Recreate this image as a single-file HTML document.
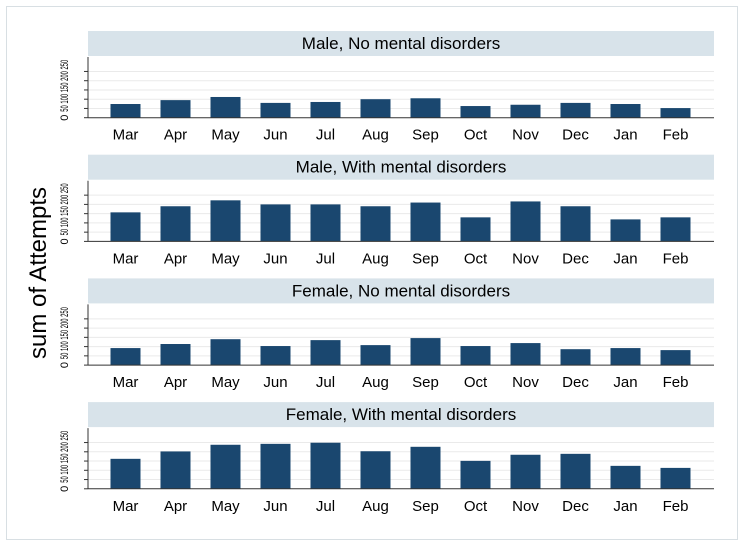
<!DOCTYPE html>
<html><head><meta charset="utf-8"><style>
body{margin:0;background:#fff;}
svg{display:block;font-family:"Liberation Sans",sans-serif;}
</style></head><body>
<svg id="c" width="745" height="546">
<rect x="0" y="0" width="745" height="546" fill="#fff"/>
<rect x="6.5" y="6.5" width="731" height="533" fill="#fff" stroke="#d8dfe3"/>
<text x="0" y="0" transform="translate(46,273) rotate(-90)" text-anchor="middle" font-size="24" fill="#000">sum of Attempts</text>
</svg>
<script>
const months=["Mar","Apr","May","Jun","Jul","Aug","Sep","Oct","Nov","Dec","Jan","Feb"];
const panelTitles=["Male, No mental disorders","Male, With mental disorders","Female, No mental disorders","Female, With mental disorders"];
const maleNo=[74,95,112,80,85,100,105,63,70,80,74,52];
const maleWith=[157,190,222,200,200,190,210,130,216,190,119,130];
const femaleNo=[92,114,140,103,135,108,146,103,119,86,92,81];
const femaleWith=[162,202,238,243,249,203,227,151,184,189,124,113];
const yTicks=[0,50,100,150,200,250];
const series=[maleNo,maleWith,femaleNo,femaleWith];
const NS="http://www.w3.org/2000/svg";
const svg=document.getElementById('c');
function mk(t,a){const e=document.createElementNS(NS,t);for(const k in a)e.setAttribute(k,a[k]);svg.appendChild(e);return e;}
const x0=88,x1=714,bw=30;
function xc(i){return 125.5+i*50;}
series.forEach((vals,p)=>{
  const top=31+p*123.7, base=117.7+p*123.7;
  const ys=v=>base-v*0.185;
  let h=mk('rect',{x:x0,y:top,width:x1-x0,height:25,fill:'#d8e3ea'});
  
  
  let t=mk('text',{x:(x0+x1)/2,y:top+18,'text-anchor':'middle','font-size':17,fill:'#000'});
  t.textContent=panelTitles[p];
  
  
  yTicks.forEach(v=>{
    if(v>0){let g=mk('line',{x1:x0,x2:x1,y1:ys(v),y2:ys(v),stroke:'#eaeaea'});
    
    }
    let tk=mk('line',{x1:x0-4,x2:x0,y1:ys(v),y2:ys(v),stroke:'#333'});
    
    
  });
  let z=mk('text',{x:0,y:0,transform:`translate(68,${base}) rotate(-90)`,'text-anchor':'middle','font-size':11,fill:'#000'});
  z.textContent=yTicks[0];
  
  
  let r=mk('text',{x:0,y:0,transform:`translate(68,${base-6}) rotate(-90)`,'font-size':11,fill:'#000',textLength:52,lengthAdjust:'spacingAndGlyphs'});
  r.textContent=yTicks.slice(1).join(' ');
  
  
  vals.forEach((v,i)=>{
    let b=mk('rect',{x:xc(i)-bw/2,y:ys(v),width:bw,height:v*0.185,fill:'#1a476f'});
    
    
    let m=mk('text',{x:xc(i),y:base+22,'text-anchor':'middle','font-size':15,fill:'#000'});
    m.textContent=months[i];
    
    
  });
  let ax=mk('line',{x1:x0,x2:x0,y1:top+26,y2:base,stroke:'#333'});
  
  
  let bx=mk('line',{x1:x0,x2:x1,y1:base,y2:base,stroke:'#333'});
  
  
});
</script>
</body></html>
